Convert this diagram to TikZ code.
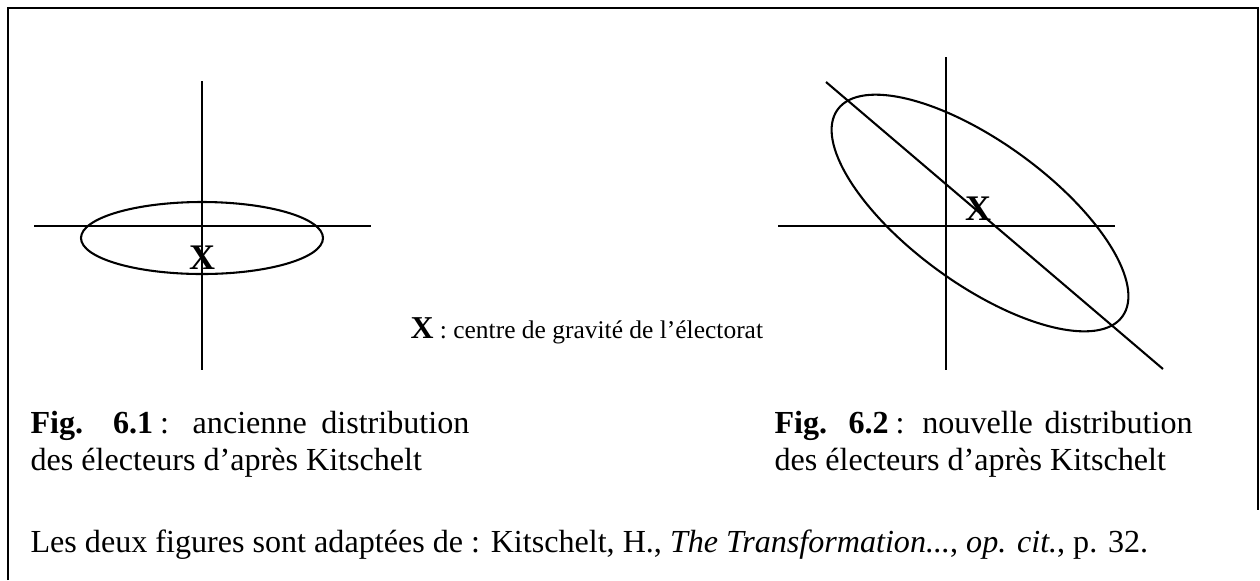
\documentclass[tikz,border=0pt]{standalone}
\usepackage{fontspec}
\setmainfont{Liberation Serif}
\begin{document}
\begin{tikzpicture}[x=0.012698cm,y=-0.012698cm,
  axis/.style={draw=black, line width=0.75pt},
  bigx/.style={font=\fontsize{13}{13}\selectfont\bfseries, inner sep=0pt, anchor=base},
  capt/.style={font=\fontsize{11.6}{13.4}\selectfont, inner sep=0pt, anchor=base west},
  legend/.style={font=\fontsize{9.2}{11}\selectfont, inner sep=0pt, anchor=base west}]
\useasboundingbox (0,0) rectangle (1260,580);
% frame
\coordinate (f-bl) at (8,580);
\coordinate (f-tl) at (8,8);
\coordinate (f-tr) at (1258,8);
\coordinate (f-br) at (1258,510);
\draw[line width=0.75pt] (f-bl) -- (f-tl) -- (f-tr) -- (f-br);
% left figure
\coordinate (l-n) at (202,81);
\coordinate (l-s) at (202,370);
\coordinate (l-w) at (34,226);
\coordinate (l-e) at (371,226);
\coordinate (l-c) at (202,238);
\draw[axis] (l-n) -- (l-s);
\draw[axis] (l-w) -- (l-e);
\draw[axis] (l-c) ellipse [x radius=121, y radius=36];
\node[bigx] (lx) at (202,269) {X};
% right figure
\coordinate (r-n) at (946,57);
\coordinate (r-s) at (946,370);
\coordinate (r-w) at (778,226);
\coordinate (r-e) at (1115,226);
\coordinate (r-a) at (826,82);
\coordinate (r-b) at (1163,369);
\coordinate (r-c) at (980,213);
\draw[axis] (r-n) -- (r-s);
\draw[axis] (r-w) -- (r-e);
\draw[axis] (r-a) -- (r-b);
\draw[axis, rotate around={-36:(r-c)}] (r-c) ellipse [x radius=176, y radius=71];
\node[bigx] (rx) at (978,220) {X};
% legend
\node[legend] (leg) at (410,338) {{\fontsize{11.5}{12}\selectfont\bfseries X} : centre de gravité de l’électorat};
% captions
\node[capt] (c1a) at (30,433) {\makebox[158.5pt][s]{\textbf{Fig.} \textbf{6.1}\hspace{2.5pt}: ancienne distribution}};
\node[capt] (c1b) at (30,470) {des électeurs d’après Kitschelt};
\node[capt] (c2a) at (774,433) {\makebox[151pt][s]{\textbf{Fig.} \textbf{6.2}\hspace{2.5pt}: nouvelle distribution}};
\node[capt] (c2b) at (774,470) {des électeurs d’après Kitschelt};
\node[capt] (src) at (30,552) {Les deux figures sont adaptées de : Kitschelt, H., \textit{The Transformation...}, \textit{op. cit.}, p. 32.};
\end{tikzpicture}
\end{document}
